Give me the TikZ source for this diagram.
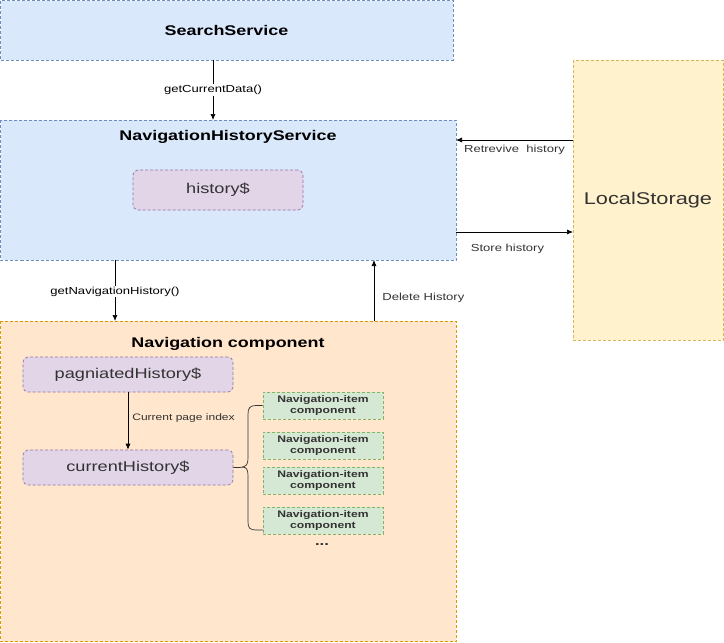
\documentclass[tikz,border=0pt]{standalone}
\usepackage{fontspec}
\setmainfont[FakeStretch=1.28]{Liberation Sans}
\usetikzlibrary{arrows.meta,decorations.pathreplacing}
\definecolor{blueF}{HTML}{DAE8FC}\definecolor{blueS}{HTML}{6C8EBF}
\definecolor{purF}{HTML}{E1D5E7}\definecolor{purS}{HTML}{9673A6}
\definecolor{yelF}{HTML}{FFF2CC}\definecolor{yelS}{HTML}{D6B656}
\definecolor{orF}{HTML}{FFE6CC}\definecolor{orS}{HTML}{D79B00}
\definecolor{grF}{HTML}{D5E8D4}\definecolor{grS}{HTML}{82B366}
\definecolor{txt}{HTML}{333333}
\begin{document}
\begin{tikzpicture}[x=1pt,y=-1pt,
  dsh/.style={dash pattern=on 3pt off 2pt, line width=0.7pt},
  bluebox/.style={draw=blueS,fill=blueF,dsh},
  purbox/.style={draw=purS,fill=purF,dsh,rounded corners=5pt,font=\fontsize{14.2}{17}\selectfont,text=txt},
  greenbox/.style={draw=grS,fill=grF,dsh},
  title/.style={font=\bfseries\fontsize{14}{17}\selectfont},
  conn/.style={-{Latex[length=6pt,width=5pt]},line width=0.7pt},
  lbl/.style={font=\fontsize{10.2}{12}\selectfont,inner sep=1pt},
  itemtxt/.style={font=\bfseries\fontsize{9.5}{10.5}\selectfont,align=center,text=txt}]
\useasboundingbox (0,0) rectangle (724,643);
% containers
\path[bluebox] (0.5,0.5) rectangle (453,60);
\node[title] (ss) at (226.5,30) {SearchService};
\coordinate (ssb) at (213,60);
\path[bluebox] (0.5,120) rectangle (456,260);
\node[title] (nhs) at (228,137) {NavigationHistoryService};
\coordinate (nhst) at (213,120);
\coordinate (nhsr1) at (456,140);
\coordinate (nhsr2) at (456,232);
\coordinate (nhsb1) at (115,260);
\coordinate (nhsb2) at (374,260);
\path[draw=yelS,fill=yelF,dsh] (573,60) rectangle (723.5,340);
\node[font=\fontsize{17}{20}\selectfont,text=txt] (ls) at (648,200) {LocalStorage};
\coordinate (lsl1) at (573,140);
\coordinate (lsl2) at (573,232);
\path[draw=orS,fill=orF,dsh] (0.5,321) rectangle (456,641.5);
\node[title] (nc) at (228,344) {Navigation component};
\coordinate (nct1) at (115,321);
\coordinate (nct2) at (374,321);
% inner nodes
\node[purbox,minimum width=170pt,minimum height=40pt] (hist) at (218,190) {history\$};
\node[purbox,minimum width=210pt,minimum height=35pt] (pag) at (128,374.5) {pagniatedHistory\$};
\node[purbox,minimum width=210pt,minimum height=35pt] (cur) at (128,467.5) {currentHistory\$};
\foreach \n/\y in {i1/405.5,i2/445.5,i3/480.5,i4/520.5}{
  \node[greenbox,minimum width=120pt,minimum height=27pt,inner sep=0pt,itemtxt] (\n) at (323,\y) {Navigation-item\\component};
}
\node[font=\bfseries\fontsize{13}{16}\selectfont,text=txt] (dots) at (322,545) {...};
% connectors
\draw[conn] (ssb) -- node[lbl,fill=blueF!0!white,pos=0.5] {getCurrentData()} (nhst);
\draw[conn] (lsl1) -- (nhsr1) node[lbl,below,pos=0.5,yshift=-4pt,text=txt] {Retrevive\ \ history};
\draw[conn] (nhsr2) -- (lsl2) node[lbl,pos=0.44,below,yshift=-11pt,text=txt] {Store history};
\draw[conn] (nhsb1) -- node[lbl,fill=white,pos=0.52] {getNavigationHistory()} (nct1);
\draw[conn] (nct2) -- node[lbl,right,xshift=7pt,pos=0.38,text=txt] {Delete History} (nhsb2);
\draw[conn] (pag.south) -- node[lbl,right,xshift=3pt,pos=0.45,font=\fontsize{9.4}{11}\selectfont,text=txt] {Current page index} (cur.north);
% brace
\draw[line width=0.7pt,txt] (cur.east) -- ++(6,0)
  .. controls (247,467) and (248,464) .. (248,458) -- (248,414)
  .. controls (248,408) and (250,405.5) .. (256,405.5) -- (i1.west);
\draw[line width=0.7pt,txt] (242,467)
  .. controls (247,467) and (248,470) .. (248,476) -- (248,522)
  .. controls (248,528) and (250,530) .. (256,530) -- (263,530);
\end{tikzpicture}
\end{document}
